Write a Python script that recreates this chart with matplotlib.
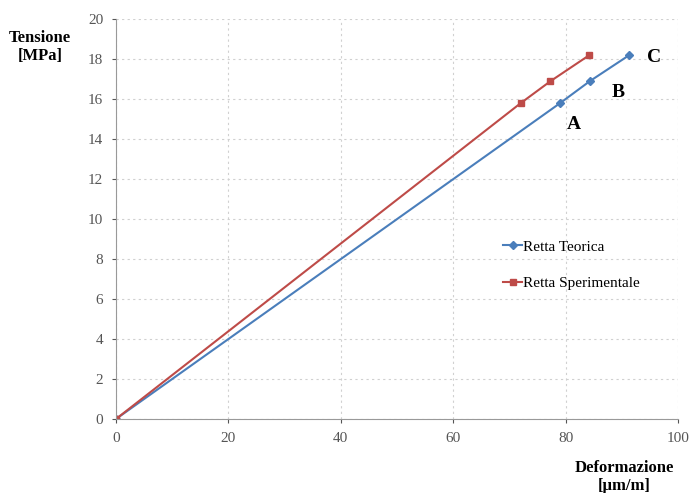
import matplotlib
matplotlib.use("Agg")
import matplotlib.pyplot as plt

# Dati: deformazione [um/m] e tensione [MPa]
def_teorica = [0, 79.0, 84.3, 91.3]
def_sperimentale = [0, 72.0, 77.3, 84.2]
tensione = [0, 15.8, 16.9, 18.2]
punti = ["A", "B", "C"]

blu = "#4a7ebb"
rosso = "#be4b48"

plt.rcParams['font.family'] = ['Liberation Serif', 'DejaVu Serif']

fig = plt.figure(figsize=(6.94, 4.93), dpi=100)
ax = fig.add_axes([0.167, 0.150, 0.810, 0.811])

ax.plot(def_teorica, tensione, color=blu, marker="D", markersize=4, linewidth=1.5, label="Retta Teorica")
ax.plot(def_sperimentale, tensione, color=rosso, marker="s", markersize=5, linewidth=1.5, label="Retta Sperimentale")

# etichette dei punti sulla retta teorica
offsets = [(5, -15), (16, -8), (13, -2)]
for x, y, p, (dx, dy) in zip(def_teorica[1:], tensione[1:], punti, offsets):
    ax.annotate(p, (x, y), xytext=(dx, dy), textcoords="offset points",
                fontsize=14, fontweight="bold", va="center")

ax.set_xlim(0, 100)
ax.set_ylim(0, 20)
ax.set_xticks(range(0, 101, 20))
ax.set_yticks(range(0, 21, 2))
ax.grid(True, linestyle=(0, (2, 3)), color="#d0d0d0", linewidth=0.8)
ax.tick_params(colors="#555555", labelsize=11, length=3, pad=6)
for s in ["top", "right"]:
    ax.spines[s].set_visible(False)
for s in ["left", "bottom"]:
    ax.spines[s].set_color("#999999")

fig.text(0.058, 0.905, "Tensione\n[MPa]", ha="center", va="center", fontsize=12, fontweight="bold")
fig.text(0.900, 0.032, "Deformazione\n[µm/m]", ha="center", va="center", fontsize=12, fontweight="bold")

leg = ax.legend(loc="center left", bbox_to_anchor=(0.665, 0.385), frameon=False,
                fontsize=11, handlelength=1.2, handletextpad=0.1, labelspacing=1.5)

plt.savefig("out.png", dpi=100)
